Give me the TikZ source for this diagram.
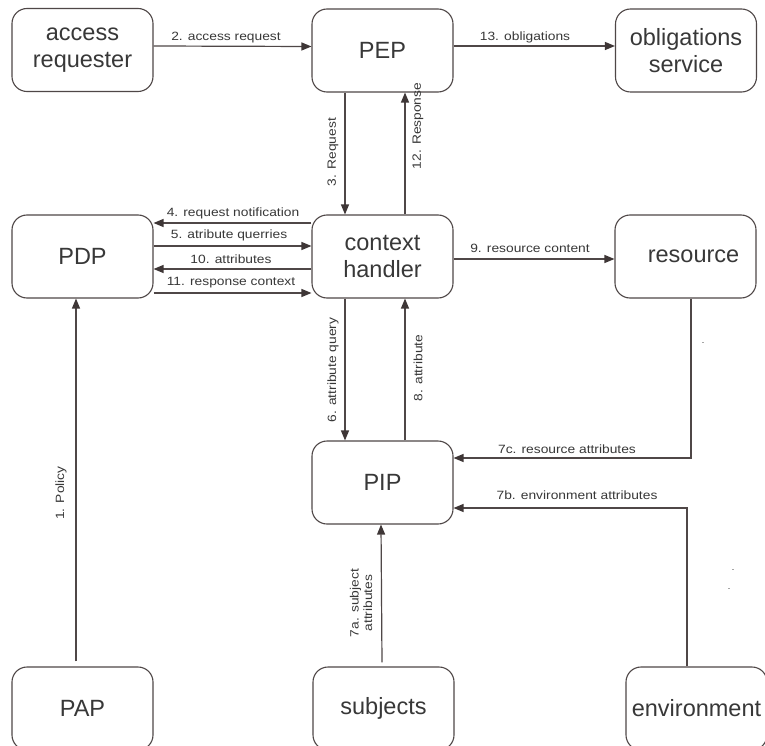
\documentclass[tikz,border=0pt]{standalone}
\usepackage{fontspec}
\setmainfont{Liberation Sans}
\newfontfamily\lblfont[FakeStretch=1.15]{Liberation Sans}
\usetikzlibrary{arrows.meta}
\definecolor{inkline}{HTML}{4F4747}
\definecolor{inktip}{HTML}{3E3636}
\definecolor{inktext}{HTML}{383838}
\tikzset{
  box/.style={draw=inkline, line width=1.1pt, rounded corners=15pt,
    minimum width=141pt, minimum height=83pt, inner sep=0pt,
    text=inktext, align=center, font=\fontsize{23.5}{27}\selectfont},
  conn/.style={draw=inkline, line width=1.2pt},
  arr/.style={conn, -{Triangle[length=10pt,width=8pt,color=inktip]}},
  lbl/.style={text=inktext, inner sep=0pt, align=center,
    font=\lblfont\fontsize{12}{13.5}\selectfont},
  vlbl/.style={lbl, rotate=90},
  speck/.style={fill=gray!70}
}
\begin{document}
\begin{tikzpicture}[x=1pt,y=-1pt]
\fill[white] (0,0) rectangle (765,746);
\useasboundingbox (0,0) rectangle (765,746);

% components
\node[box] (ar)  at (82.5,50)   {access\\requester};
\node[box] (pep) at (382.5,50.5){PEP};
\node[box] (obl) at (686,50.5)  {obligations\\service};
\node[box] (pdp) at (82.5,256.5){PDP};
\node[box] (ch)  at (382.5,256.5){context\\handler};
\node[box, text width=141pt, align=center] (res) at (685.5,256.5){\hspace*{16pt}resource};
\node[box] (pip) at (382.5,482.5){PIP};
\node[box] (pap) at (82.5,708.5){PAP};
\node[box] (sub) at (383.5,708.5){subjects};
\node[box, inner xsep=0pt] (env) at (696.5,708.5){environment};

% request / response flow
\draw[arr] ([yshift=4pt]ar.east) -- ([yshift=4pt]pep.west);
\draw[arr] ([yshift=4.5pt]pep.east) -- ([yshift=4.5pt]obl.west);
\draw[arr] ([xshift=-37.5pt]pep.south) -- ([xshift=-37.5pt]ch.north);
\draw[arr] ([xshift=22.5pt]ch.north) -- ([xshift=22.5pt]pep.south);

% PDP <-> context handler
\draw[arr] ([yshift=33.5pt]ch.west) -- ([yshift=33.5pt]pdp.east);
\draw[arr] ([yshift=10.5pt]pdp.east) -- ([yshift=10.5pt]ch.west);
\draw[arr] ([yshift=-12.5pt]ch.west) -- ([yshift=-12.5pt]pdp.east);
\draw[arr] ([yshift=-36.5pt]pdp.east) -- ([yshift=-36.5pt]ch.west);

% context handler -> resource
\draw[arr] ([yshift=-2.5pt]ch.east) -- ([yshift=-2.5pt]res.west);

% context handler <-> PIP
\draw[arr] ([xshift=-37.5pt]ch.south) -- ([xshift=-37.5pt]pip.north);
\draw[arr] ([xshift=22.5pt]pip.north) -- ([xshift=22.5pt]ch.south);

% attribute sources
\draw[arr] ([xshift=5.5pt]res.south) |- ([yshift=24.5pt]pip.east);
\draw[arr] ([xshift=-9.5pt]env.north) |- ([yshift=-25.5pt]pip.east);
\draw[arr] ([xshift=-1.5pt,yshift=4pt]sub.north) -- ([xshift=-1.5pt]pip.south);

% policy
\draw[arr] ([xshift=-6.5pt,yshift=5pt]pap.north) -- ([xshift=-6.5pt]pdp.south);

% labels
\node[lbl] (l2)  at (226,38)  {2. access request};
\node[lbl] (l13) at (525,37)  {13. obligations};
\node[vlbl] (l3) at (333,152) {3. Request};
\node[vlbl] (l12) at (418,126) {12. Response};
\node[lbl] (l4)  at (233,213) {4. request notification};
\node[lbl] (l5)  at (229,235) {5. atribute querries};
\node[lbl] (l10) at (231,259) {10. attributes};
\node[lbl] (l11) at (231,283) {11. response context};
\node[lbl] (l9)  at (530,248) {9. resource content};
\node[vlbl] (l6) at (333,370) {6. attribute query};
\node[vlbl] (l8) at (418,368) {8. attribute};
\node[lbl] (l7c) at (567,449) {7c. resource attributes};
\node[lbl] (l7b) at (577,495) {7b. environment attributes};
\node[vlbl] (l7a) at (361,603) {7a. subject\\attributes};
\node[vlbl] (l1) at (61,493)  {1. Policy};

% stray marks
\fill[speck] (702,341.5) rectangle (704,342.5);
\fill[speck] (732,568.5) rectangle (734,569.5);
\fill[speck] (728,587.5) rectangle (730,588.5);
\end{tikzpicture}
\end{document}
